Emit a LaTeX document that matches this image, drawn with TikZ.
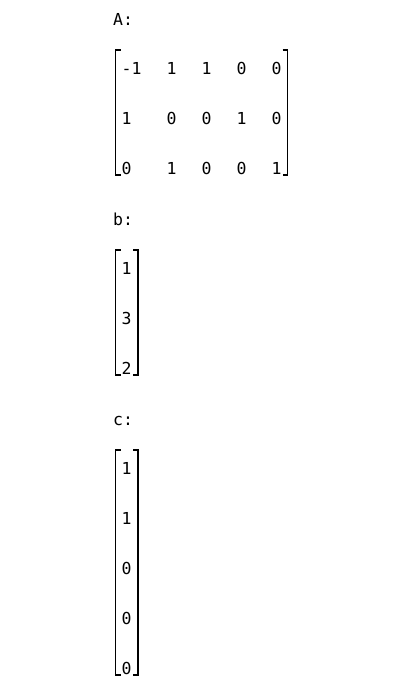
\documentclass[tikz,border=0pt]{standalone}
\usepackage{fontspec}
\setmonofont{DejaVu Sans Mono}
\begin{document}
\begin{tikzpicture}[x=1pt,y=-1pt,
  every node/.style={inner sep=0pt, anchor=base west, font=\ttfamily\fontsize{16.5}{16.5}\selectfont},
  brk/.style={line width=1.1pt, line cap=butt}]
\useasboundingbox (0,0) rectangle (410,699);
% labels
\node (labA) at (113,25.5) {A:};
\node (labb) at (113,225.5) {b:};
\node (labc) at (113,425.5) {c:};
% matrix A
\node (a11) at (121.5,74) {-1};
\node (a12) at (166.5,74) {1};
\node (a13) at (201.5,74) {1};
\node (a14) at (236.5,74) {0};
\node (a15) at (271.5,74) {0};
\node (a21) at (121.5,124) {1};
\node (a22) at (166.5,124) {0};
\node (a23) at (201.5,124) {0};
\node (a24) at (236.5,124) {1};
\node (a25) at (271.5,124) {0};
\node (a31) at (121.5,174) {0};
\node (a32) at (166.5,174) {1};
\node (a33) at (201.5,174) {0};
\node (a34) at (236.5,174) {0};
\node (a35) at (271.5,174) {1};
\draw[brk] (120.5,50) -| (115.5,175) -- (120.5,175);
\draw[brk] (282.5,50) -| (287.5,175) -- (282.5,175);
% vector b
\node (b1) at (121.5,274) {1};
\node (b2) at (121.5,324) {3};
\node (b3) at (121.5,374) {2};
\draw[brk] (120.5,250) -| (115.5,375) -- (120.5,375);
\draw[brk] (133,250) -| (138,375) -- (133,375);
% vector c
\node (c1) at (121.5,474) {1};
\node (c2) at (121.5,524) {1};
\node (c3) at (121.5,574) {0};
\node (c4) at (121.5,624) {0};
\node (c5) at (121.5,674) {0};
\draw[brk] (120.5,450) -| (115.5,675) -- (120.5,675);
\draw[brk] (133,450) -| (138,675) -- (133,675);
\end{tikzpicture}
\end{document}
